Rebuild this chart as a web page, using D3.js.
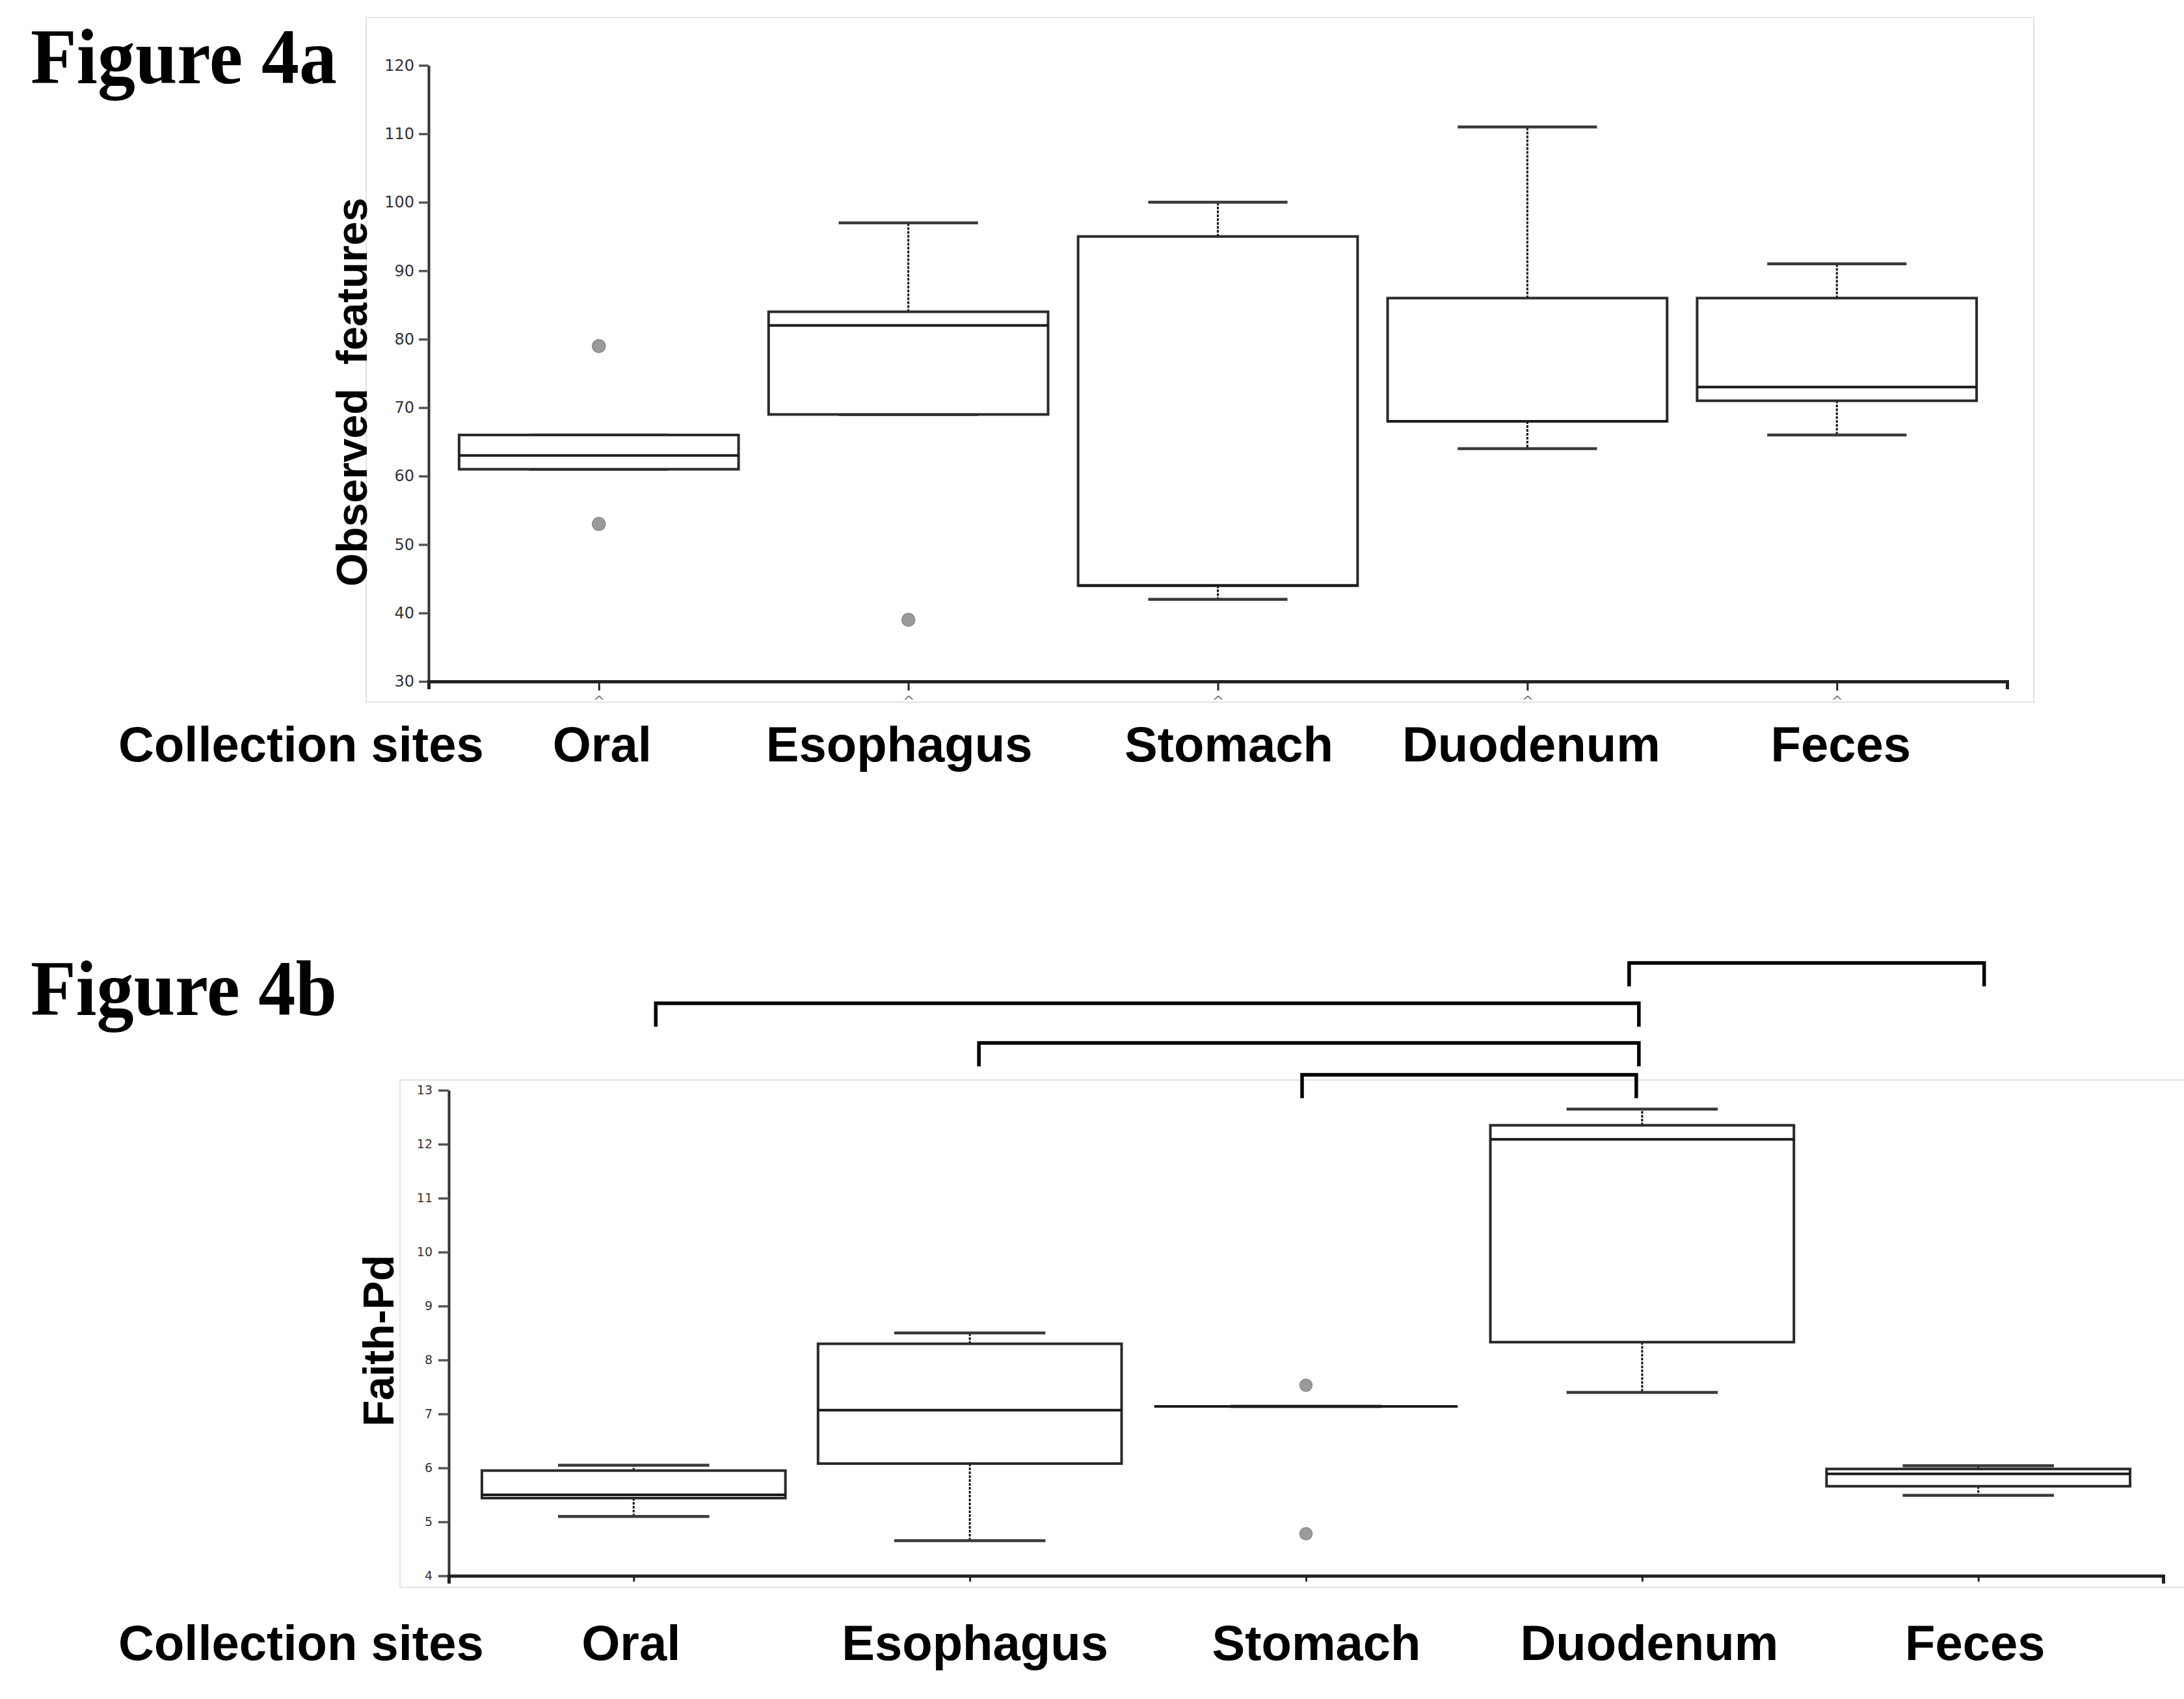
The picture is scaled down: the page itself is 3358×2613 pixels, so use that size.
<!DOCTYPE html>
<html>
<head>
<meta charset="utf-8">
<script src="https://cdn.jsdelivr.net/npm/d3@7"></script>
<style>
  html, body { margin: 0; padding: 0; background: #ffffff; }
  svg { display: block; }
  text { white-space: pre; }
</style>
</head>
<body>
<svg id="chart" width="3358" height="2613"></svg>
<script>
// ---------------- DATA ----------------
const categories = ["Oral", "Esophagus", "Stomach", "Duodenum", "Feces"];

// Figure 4a : Observed features
const obsTicks = [30, 40, 50, 60, 70, 80, 90, 100, 110, 120];
const obsLow      = [61, 69, 42, 64, 66];
const obsQ1       = [61, 69, 44, 68, 71];
const obsMedian   = [63, 82, 44, 68, 73];
const obsQ3       = [66, 84, 95, 86, 86];
const obsHigh     = [66, 97, 100, 111, 91];
const obsOutliers = [[79, 53], [39], [], [], []];

// Figure 4b : Faith-Pd
const faithTicks = [4, 5, 6, 7, 8, 9, 10, 11, 12, 13];
const faithLow      = [5.10, 4.65, 7.14, 7.40, 5.49];
const faithQ1       = [5.44, 6.08, 7.14, 8.33, 5.66];
const faithMedian   = [5.50, 7.07, 7.14, 12.09, 5.89];
const faithQ3       = [5.95, 8.30, 7.14, 12.35, 5.98];
const faithHigh     = [6.05, 8.50, 7.14, 12.65, 6.04];
const faithOutliers = [[], [], [7.53, 4.78], [], []];

// significance brackets (Figure 4b), from top level to bottom level
const bracketPairs = [["Duodenum", "Feces"], ["Oral", "Duodenum"], ["Esophagus", "Duodenum"], ["Stomach", "Duodenum"]];

const xTitle = "Collection sites";

// ---------------- DRAWING ----------------
const svg = d3.select("#chart");

function rows(low, q1, med, q3, high, outl) {
  return categories.map((c, i) => ({cat: c, low: low[i], q1: q1[i], med: med[i], q3: q3[i], high: high[i], out: outl[i]}));
}

function drawPanel(cfg) {
  const g = svg.append("g");
  // faint frame of the plot panel
  g.append("rect")
    .attr("x", cfg.frame[0]).attr("y", cfg.frame[1])
    .attr("width", cfg.frame[2]).attr("height", cfg.frame[3])
    .attr("fill", "none").attr("stroke", "#e4e4e4").attr("stroke-width", 2);

  const x = d3.scalePoint().domain(categories).range(cfg.xRange).padding(0.55);
  const y = d3.scaleLinear().domain(cfg.yDomain).range(cfg.yRange);
  const step = x.step();
  const boxW = step * 0.903, capW = step * 0.45;

  // y axis
  const ya = g.append("g").attr("transform", `translate(${cfg.xRange[0]},0)`)
    .call(d3.axisLeft(y).tickValues(cfg.ticks).tickSize(cfg.tickLen).tickSizeOuter(0).tickPadding(cfg.tickPad));
  ya.select(".domain").attr("stroke", "#333").attr("stroke-width", 4);
  ya.selectAll(".tick line").attr("stroke", "#555").attr("stroke-width", 3.5);
  ya.selectAll(".tick text").attr("font-family", "DejaVu Sans").attr("font-size", cfg.tickFont).attr("fill", "#333");

  // x axis
  const xa = g.append("g").attr("transform", `translate(0,${cfg.yRange[0]})`)
    .call(d3.axisBottom(x).tickSize(cfg.xTickLen).tickSizeOuter(12).tickFormat(""));
  xa.select(".domain").attr("stroke", "#222").attr("stroke-width", 5);
  xa.selectAll(".tick line").attr("stroke", "#222").attr("stroke-width", 3);
  if (cfg.caret) {
    xa.selectAll(".tick").append("text")
      .attr("y", 38).attr("text-anchor", "middle")
      .attr("font-family", "DejaVu Sans").attr("font-size", 22).attr("fill", "#777")
      .text("^");
  }

  const data = rows(cfg.low, cfg.q1, cfg.med, cfg.q3, cfg.high, cfg.out);
  const bg = g.append("g").selectAll("g").data(data).join("g");

  // whiskers (dotted)
  bg.filter(d => d.high > d.q3).append("line")
    .attr("x1", d => x(d.cat)).attr("x2", d => x(d.cat))
    .attr("y1", d => y(d.q3)).attr("y2", d => y(d.high))
    .attr("stroke", "#111").attr("stroke-width", 3).attr("stroke-dasharray", "4,2");
  bg.filter(d => d.low < d.q1).append("line")
    .attr("x1", d => x(d.cat)).attr("x2", d => x(d.cat))
    .attr("y1", d => y(d.q1)).attr("y2", d => y(d.low))
    .attr("stroke", "#111").attr("stroke-width", 3).attr("stroke-dasharray", "4,2");
  // caps
  bg.append("line")
    .attr("x1", d => x(d.cat) - capW / 2).attr("x2", d => x(d.cat) + capW / 2)
    .attr("y1", d => y(d.high)).attr("y2", d => y(d.high))
    .attr("stroke", "#3a3a3a").attr("stroke-width", 4.5);
  bg.append("line")
    .attr("x1", d => x(d.cat) - capW / 2).attr("x2", d => x(d.cat) + capW / 2)
    .attr("y1", d => y(d.low)).attr("y2", d => y(d.low))
    .attr("stroke", "#3a3a3a").attr("stroke-width", 4.5);
  // boxes
  bg.append("rect")
    .attr("x", d => x(d.cat) - boxW / 2).attr("width", boxW)
    .attr("y", d => y(d.q3)).attr("height", d => Math.max(0, y(d.q1) - y(d.q3)))
    .attr("fill", "#fff").attr("stroke", "#2a2a2a").attr("stroke-width", 4);
  // medians
  bg.append("line")
    .attr("x1", d => x(d.cat) - boxW / 2).attr("x2", d => x(d.cat) + boxW / 2)
    .attr("y1", d => y(d.med)).attr("y2", d => y(d.med))
    .attr("stroke", "#1a1a1a").attr("stroke-width", 4);
  // outliers
  bg.selectAll("circle").data(d => d.out.map(v => ({cat: d.cat, v}))).join("circle")
    .attr("cx", d => x(d.cat)).attr("cy", d => y(d.v)).attr("r", cfg.r)
    .attr("fill", "#9a9a9a").attr("stroke", "#8a8a8a").attr("stroke-width", 1.5);

  // y title
  svg.append("text")
    .attr("transform", `translate(${cfg.yTitlePos[0]},${cfg.yTitlePos[1]}) rotate(-90)`)
    .attr("text-anchor", "middle")
    .attr("font-family", "Liberation Sans, Arial, sans-serif").attr("font-weight", "bold")
    .attr("font-size", 66).attr("fill", "#000")
    .text(cfg.yTitle);

  // x title and category labels
  svg.append("text")
    .attr("x", 182).attr("y", cfg.labelBaseline)
    .attr("font-family", "Liberation Sans, Arial, sans-serif").attr("font-weight", "bold")
    .attr("font-size", 76).attr("fill", "#000")
    .text(xTitle);
  svg.append("g").selectAll("text").data(categories).join("text")
    .attr("x", (d, i) => x(d) + cfg.labelShift[i]).attr("y", cfg.labelBaseline).attr("text-anchor", "middle")
    .attr("font-family", "Liberation Sans, Arial, sans-serif").attr("font-weight", "bold")
    .attr("font-size", 76).attr("fill", "#000")
    .text(d => d);

  // figure title
  svg.append("text")
    .attr("x", 47).attr("y", cfg.titleBaseline)
    .attr("font-family", "Liberation Serif, Times New Roman, serif").attr("font-weight", "bold")
    .attr("font-size", 121).attr("fill", "#000")
    .attr("textLength", 471).attr("lengthAdjust", "spacingAndGlyphs")
    .text(cfg.title);

  return {x, y};
}

drawPanel({
  title: "Figure 4a", titleBaseline: 128,
  frame: [563, 27, 2564, 1053],
  xRange: [659, 3086], yRange: [1048, 100.5], yDomain: [30, 120],
  ticks: obsTicks, tickLen: 15, tickPad: 7, tickFont: 24, xTickLen: 14, caret: true,
  low: obsLow, q1: obsQ1, med: obsMedian, q3: obsQ3, high: obsHigh, out: obsOutliers, r: 10,
  yTitle: "Observed  features", yTitlePos: [564, 603],
  labelBaseline: 1171, labelShift: [5, -14, 17, 6, 6]
});

const sc = drawPanel({
  title: "Figure 4b", titleBaseline: 1561,
  frame: [615, 1661, 2800, 780],
  xRange: [690, 3326], yRange: [2423.5, 1676.7], yDomain: [4, 13],
  ticks: faithTicks, tickLen: 16, tickPad: 9, tickFont: 19, xTickLen: 9, caret: false,
  low: faithLow, q1: faithQ1, med: faithMedian, q3: faithQ3, high: faithHigh, out: faithOutliers, r: 9.5,
  yTitle: "Faith-Pd", yTitlePos: [605, 2062],
  labelBaseline: 2553, labelShift: [-4, 8, 16, 11, -5]
});

// significance brackets (layout: level heights and small end nudges)
const bracketTop = [1481, 1543, 1604, 1653];
const bracketNudge = [[-20, 9], [34, -5], [14, -5], [-6, -9]];
const legLen = 36;
svg.append("g").selectAll("path").data(bracketPairs).join("path")
  .attr("d", (p, i) => {
    const x1 = sc.x(p[0]) + bracketNudge[i][0], x2 = sc.x(p[1]) + bracketNudge[i][1], t = bracketTop[i];
    return `M${x1},${t + legLen}V${t}H${x2}V${t + legLen}`;
  })
  .attr("fill", "none").attr("stroke", "#000").attr("stroke-width", 5.5);
</script>
</body>
</html>
